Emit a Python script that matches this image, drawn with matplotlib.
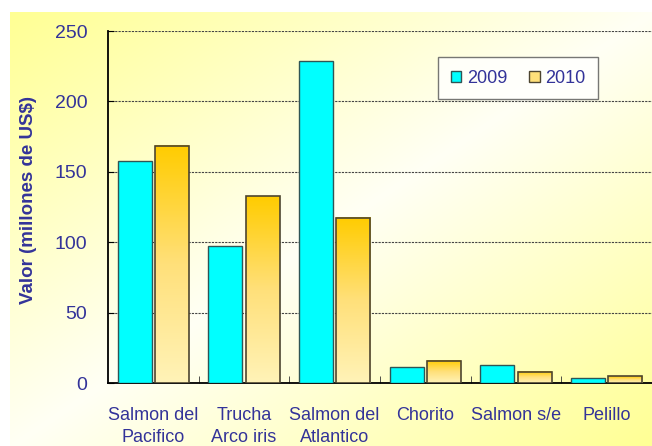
import numpy as np
import matplotlib
matplotlib.use("Agg")
import matplotlib.pyplot as plt
from matplotlib.colors import LinearSegmentedColormap
from matplotlib.patches import Patch

categorias = ["Salmon del\nPacifico", "Trucha\nArco iris", "Salmon del\nAtlantico",
              "Chorito", "Salmon s/e", "Pelillo"]
valores_2009 = [158, 97, 228.5, 11.5, 13, 3.3]
valores_2010 = [168.5, 132.6, 117.5, 15.8, 8, 4.7]
series = ["2009", "2010"]

azul = "#333399"
plt.rcParams["font.family"] = ["Liberation Sans", "DejaVu Sans"]

fig = plt.figure(figsize=(6.52, 4.46), dpi=100)

# fondo degradado amarillo-blanco-amarillo en diagonal
bg = fig.add_axes([10 / 652, 0, 1 - 10 / 652, 1 - 12 / 446], zorder=-10)
h, w = 200, 300
yy, xx = np.mgrid[0:h, 0:w]
t = (xx / w + yy / h) / 2.0
d = np.abs(t - 0.5) * 2
amarillo = np.array([1.0, 1.0, 0.58])
blanco = np.array([1.0, 1.0, 0.96])
img = blanco[None, None, :] * (1 - d[..., None]) + amarillo[None, None, :] * d[..., None]
bg.imshow(img, aspect="auto", extent=(0, 1, 0, 1), origin="upper")
bg.axis("off")

ax = fig.add_axes([108 / 652, 1 - 383 / 446, 1 - 108 / 652, (383 - 31) / 446])
ax.patch.set_alpha(0)

x = np.arange(len(categorias)) + 0.5
ancho = 0.375
off = 0.205

ax.bar(x - off, valores_2009, ancho, color="#00FFFF", edgecolor="#2f5555", linewidth=1, zorder=3)

grad = LinearSegmentedColormap.from_list("oro", ["#FFF3B8", "#FFE07A", "#FFCC00"])
gimg = np.linspace(0, 1, 256).reshape(-1, 1)
for xi, v in zip(x + off, valores_2010):
    ax.imshow(gimg, cmap=grad, aspect="auto", origin="lower",
              extent=(xi - ancho / 2, xi + ancho / 2, 0, v), zorder=3)
ax.bar(x + off, valores_2010, ancho, facecolor="none", edgecolor="#4d4530", linewidth=1.2, zorder=4)

ax.set_xlim(0, len(categorias))
ax.set_ylim(0, 250)
ax.set_yticks(np.arange(0, 251, 50))
ax.set_xticks(x)
ax.set_xticklabels(categorias, color=azul, fontsize=13, linespacing=1.4)
ax.set_xticks(np.arange(1, len(categorias)), minor=True)
ax.tick_params(axis="x", which="major", length=0, pad=17)
ax.tick_params(axis="x", which="minor", direction="in", length=5, color="#333333")
ax.tick_params(axis="y", direction="in", length=4, labelsize=14, labelcolor=azul, pad=15)
ax.yaxis.grid(True, linestyle=(0, (2, 1)), color="#444444", linewidth=0.8, zorder=0)
ax.set_axisbelow(True)
for s in ["top", "right"]:
    ax.spines[s].set_visible(False)
ax.spines["left"].set_linewidth(1.3)
ax.spines["bottom"].set_linewidth(1.3)

ax.set_ylabel("Valor (millones de US$)", color=azul, fontsize=13.5, fontweight="bold")
ax.yaxis.set_label_coords(-0.13, 0.52)

handles = [Patch(facecolor="#00FFFF", edgecolor="#2f5555"),
           Patch(facecolor="#FFE07A", edgecolor="#4d4530")]
leg = ax.legend(handles, series, ncol=2, loc="upper left", bbox_to_anchor=(330 / 544, 1 - 26 / 352),
                borderaxespad=0, frameon=True, fancybox=False, fontsize=13, handlelength=0.6,
                handleheight=0.6, handletextpad=0.3, columnspacing=1.2, borderpad=0.7,
                labelcolor=azul)
leg.get_frame().set_edgecolor("#555555")
leg.get_frame().set_linewidth(1)
leg.set_zorder(10)

fig.savefig("out.png", dpi=100)
